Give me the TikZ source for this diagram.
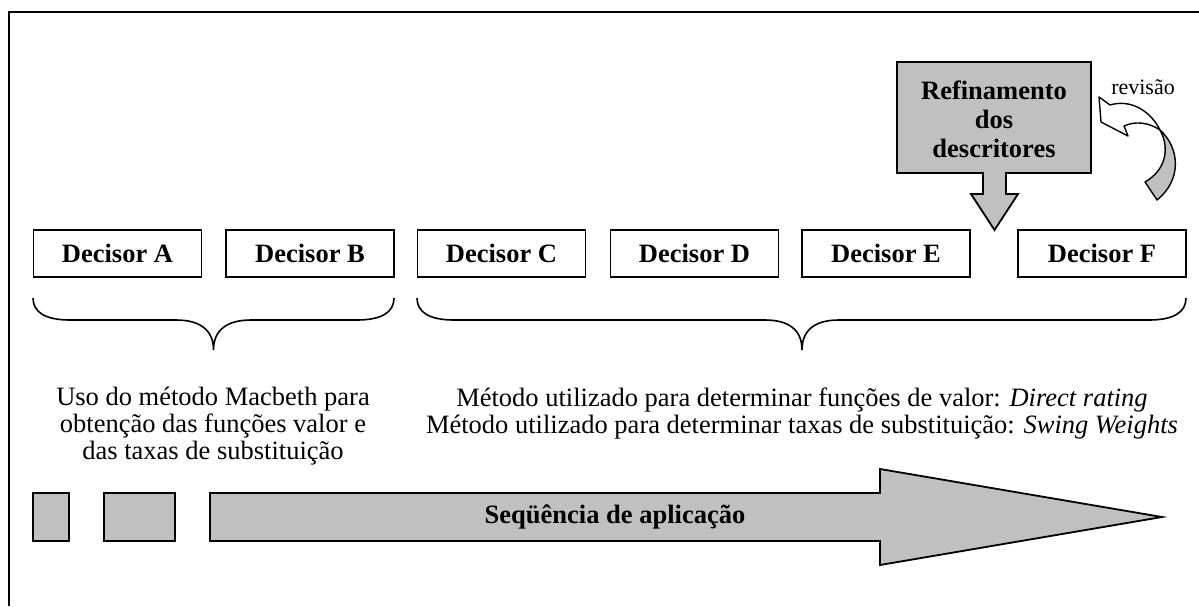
\documentclass[tikz,border=0pt]{standalone}
\usepackage{fontspec}
\setmainfont{Liberation Serif}
\definecolor{silver}{RGB}{192,192,192}
\tikzset{
  frame/.style={line width=1pt},
  decisor/.style={draw, line width=0.9pt, fill=white, minimum width=84pt, minimum height=23.5pt, inner sep=0pt, font=\fontsize{13.25pt}{14pt}\selectfont\bfseries},
  graybox/.style={draw, line width=0.9pt, fill=silver},
  brace/.style={line width=0.8pt},
  txt/.style={align=center, inner sep=0pt, font=\fontsize{13.25pt}{13.5pt}\selectfont},
  boldtxt/.style={align=center, inner sep=0pt, font=\fontsize{13.25pt}{14.5pt}\selectfont\bfseries},
  smalltxt/.style={inner sep=0pt, font=\fontsize{11pt}{12pt}\selectfont},
  curvearrow/.style={draw, line width=0.7pt, line join=round}
}
\begin{document}
\begin{tikzpicture}[x=0.5pt,y=-0.5pt]
\useasboundingbox (0,0) rectangle (1199,606);
% frame (only top and left edges visible)
\coordinate (fbl) at (9,606);
\coordinate (ftl) at (9,12);
\coordinate (ftr) at (1199,12);
\draw[frame] (fbl) -- (ftl) -- (ftr);

% decisors
\node[decisor] (A) at (117.5,253.5) {Decisor A};
\node[decisor] (B) at (310,253.5) {Decisor B};
\node[decisor] (C) at (501.5,253.5) {Decisor C};
\node[decisor] (D) at (694.5,253.5) {Decisor D};
\node[decisor] (E) at (886,253.5) {Decisor E};
\node[decisor] (F) at (1102,253.5) {Decisor F};

% refinement callout
\draw[graybox, line join=miter] (897,62) -- (1091,62) -- (1091,173) -- (1006,173) -- (1006,194) -- (1018,194)
  -- (994.5,230) -- (971,194) -- (983,194) -- (983,173) -- (897,173) -- cycle;
\node[boldtxt] (ref) at (994,119) {Refinamento\\dos\\descritores};

% revision curved arrow
\draw[curvearrow, fill=white] (1099,97) -- (1110,105) .. controls (1130,99) and (1150,110) .. (1160,130)
  .. controls (1148,122) and (1135,121) .. (1124,126) -- (1128,136) -- (1101,122) -- cycle;
\draw[curvearrow, fill=silver] (1160,130) .. controls (1180,148) and (1182,180) .. (1157,200) -- (1145,182)
  .. controls (1166,170) and (1170,148) .. (1160,130) -- cycle;
\node[smalltxt] (rev) at (1143,87) {revisão};

% braces
\draw[brace] (33,298) .. controls (33,312) and (45,320) .. (70,320) -- (176,320)
  .. controls (200,320) and (213.5,330) .. (213.5,350)
  .. controls (213.5,330) and (227,320) .. (251,320) -- (357,320)
  .. controls (382,320) and (394,312) .. (394,298);
\draw[brace] (417,298) .. controls (417,312) and (429,320) .. (454,320) -- (765,320)
  .. controls (789,320) and (802,330) .. (802,350)
  .. controls (802,330) and (815,320) .. (839,320) -- (1149,320)
  .. controls (1174,320) and (1186,312) .. (1186,298);

% descriptions
\node[txt] (ltxt) at (213,426) {Uso do método Macbeth para\\obtenção das funções valor e\\das taxas de substituição};
\node[txt] (rtxt) at (802,413) {Método utilizado para determinar funções de valor: \textit{Direct rating}\\Método utilizado para determinar taxas de substituição: \textit{Swing Weights}};

% bottom sequence
\draw[graybox] (33,493) rectangle (69,541);
\draw[graybox] (104,493) rectangle (175,541);
\draw[graybox, line join=miter] (210,493) -- (880,493) -- (880,469) -- (1162,517) -- (880,565) -- (880,541) -- (210,541) -- cycle;
\node[boldtxt] (seq) at (615,517) {Seqüência de aplicação};
\end{tikzpicture}
\end{document}
